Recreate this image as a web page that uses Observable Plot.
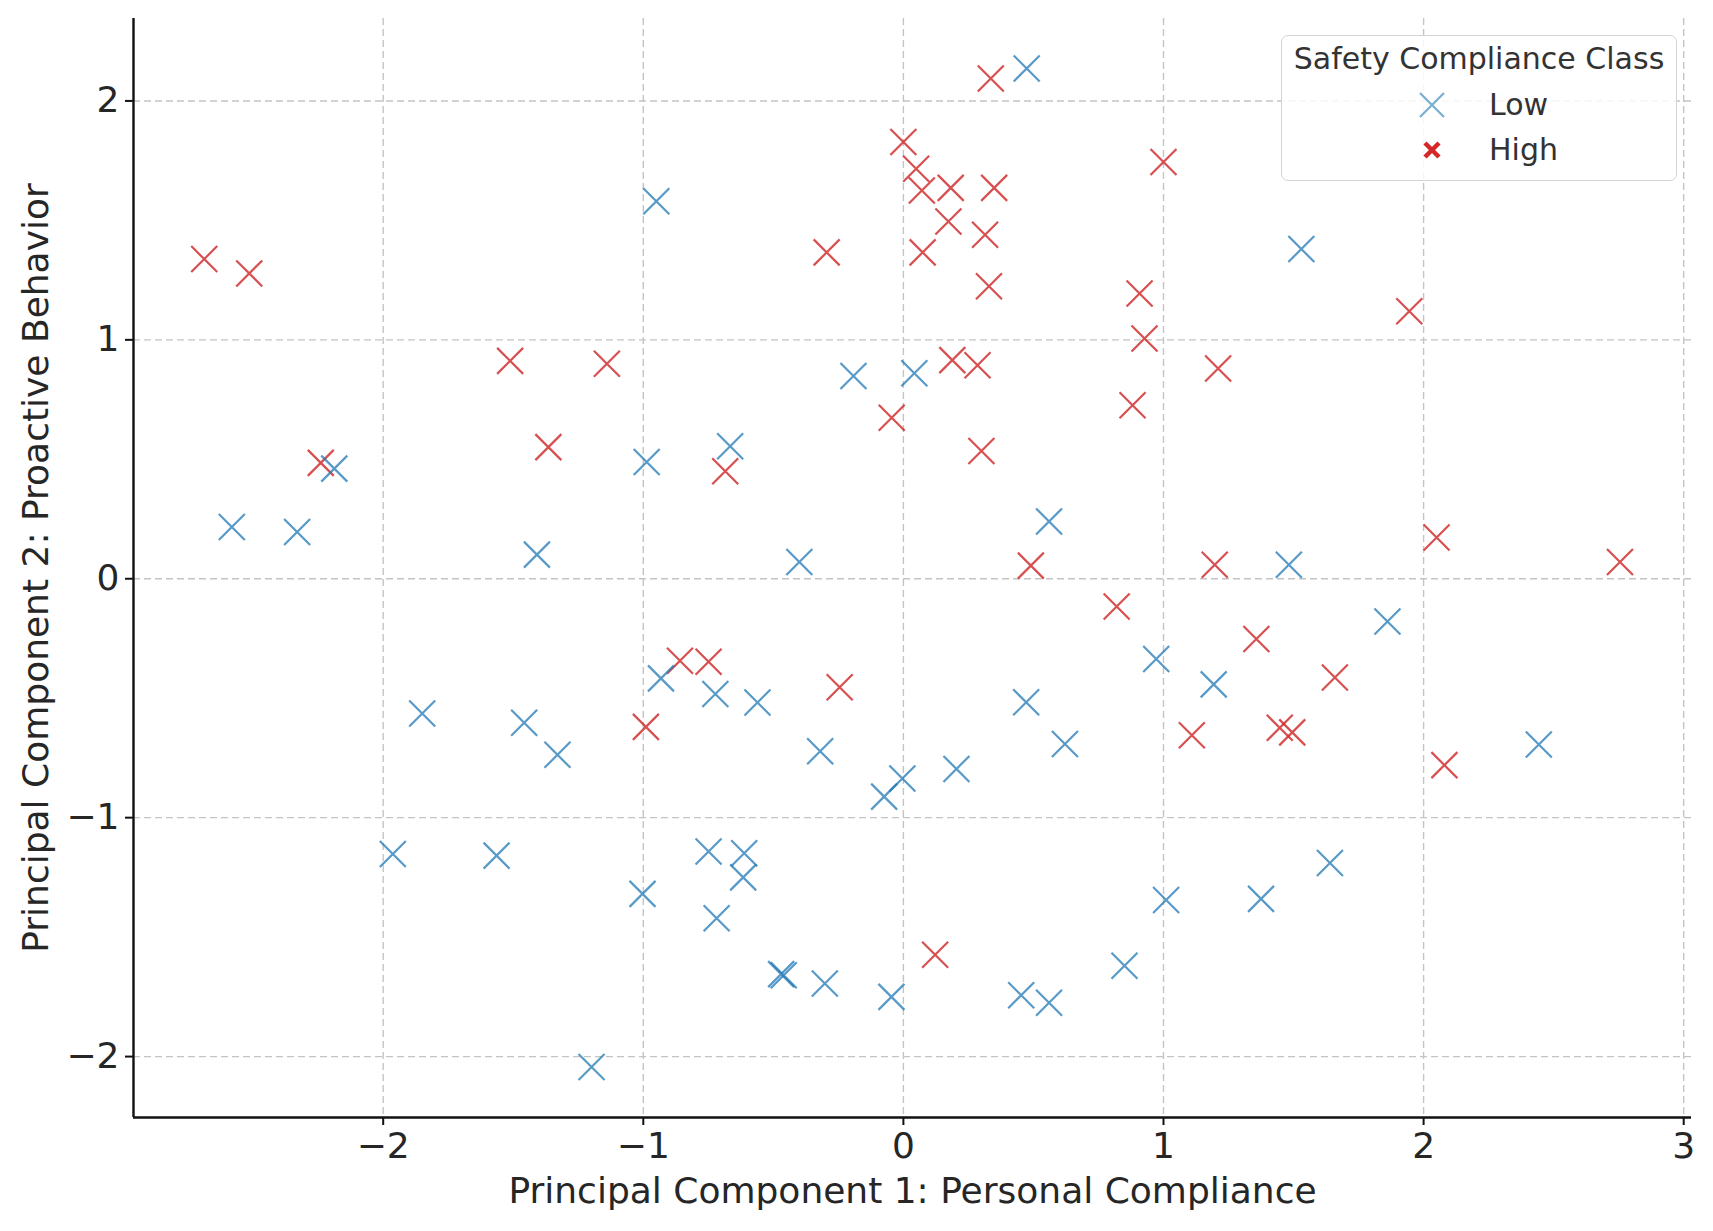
<!DOCTYPE html>
<html>
<head>
<meta charset="utf-8">
<script src="https://cdn.jsdelivr.net/npm/d3@7"></script>
<script src="https://cdn.jsdelivr.net/npm/@observablehq/plot@0.6"></script>
<style>
  html, body { margin: 0; padding: 0; background: #fff; overflow: hidden; }
  #wrap { position: relative; width: 1713px; height: 1231px; font-family: "DejaVu Sans", sans-serif; }
  #legend { position: absolute; left: 1281px; top: 35px; width: 396px; height: 146px;
    border: 1.5px solid #d4d4d4; border-radius: 7px; background: rgba(255,255,255,0.85); box-sizing: border-box; }
  #legend .title { position: absolute; left: 0; width: 100%; top: 3px; text-align: center; font-size: 30px; color: #333; line-height: 40px; }
  #legend .row { position: absolute; left: 0; width: 100%; height: 40px; }
  #legend .row svg { position: absolute; left: 130px; top: 0; }
  #legend .row span { position: absolute; left: 207px; top: 0; font-size: 30px; line-height: 40px; color: #333; }
</style>
</head>
<body>
<div id="wrap"></div>
<script>
// Low safety compliance class (blue)
const lowPC1 = [0.474, -0.95, 1.53, -0.192, 0.042, -0.666, -0.987, -2.188, -2.582, -2.331,
  -1.409, -0.40, 0.56, 1.482, 1.861, 0.972, 1.193, -0.932, -0.723, -0.561,
  -1.85, -1.458, -1.33, -0.32, 0.472, 0.621, 2.443, -0.004, -0.074, 0.204,
  -1.963, -1.564, -0.749, -0.612, -0.616, -1.003, -0.718, 1.01, 1.375, 1.64,
  -0.47, -0.46, -0.302, -0.046, 0.453, 0.56, 0.85, -1.199];
const lowPC2 = [2.136, 1.58, 1.38, 0.849, 0.86, 0.555, 0.489, 0.461, 0.217, 0.196,
  0.101, 0.07, 0.24, 0.059, -0.179, -0.336, -0.442, -0.417, -0.482, -0.518,
  -0.564, -0.603, -0.737, -0.722, -0.517, -0.692, -0.694, -0.836, -0.912, -0.796,
  -1.152, -1.159, -1.142, -1.149, -1.25, -1.319, -1.421, -1.345, -1.34, -1.19,
  -1.655, -1.66, -1.694, -1.75, -1.743, -1.775, -1.62, -2.044];

// High safety compliance class (red)
const highPC1 = [-2.688, -2.515, 0.336, 0.0, 0.049, 0.071, 0.182, 0.349, 0.173, 0.314,
  0.074, -0.295, 0.329, 1.0, 0.908, 0.927, 1.945, 1.21, 0.881, 0.188,
  0.285, -1.512, -1.14, -1.365, -2.24, -0.685, -0.045, 0.30, 0.49, 1.197,
  2.05, 2.755, 0.82, 1.357, 1.659, 1.447, 1.495, 1.109, 2.08, -0.859,
  -0.749, -0.99, -0.245, 0.122];
const highPC2 = [1.338, 1.278, 2.094, 1.828, 1.716, 1.625, 1.636, 1.636, 1.495, 1.44,
  1.366, 1.366, 1.224, 1.744, 1.194, 1.006, 1.12, 0.88, 0.726, 0.915,
  0.894, 0.912, 0.90, 0.551, 0.485, 0.45, 0.674, 0.535, 0.055, 0.059,
  0.173, 0.07, -0.116, -0.252, -0.413, -0.624, -0.643, -0.655, -0.78, -0.343,
  -0.347, -0.62, -0.454, -1.574];

const classNames = ["Low", "High"];
const xTicks = [-2, -1, 0, 1, 2, 3];
const yTicks = [-2, -1, 0, 1, 2];

const low = lowPC1.map((x, i) => ({x, y: lowPC2[i], cls: "Low"}));
const high = highPC1.map((x, i) => ({x, y: highPC2[i], cls: "High"}));

const xDomain = [-2.96, 3.03];
const yDomain = [-2.255, 2.345];

const cross = {
  draw(ctx, size) {
    const r = Math.sqrt(size / Math.PI);
    ctx.moveTo(-r, -r); ctx.lineTo(r, r);
    ctx.moveTo(-r, r); ctx.lineTo(r, -r);
  }
};
const fmt = d => d < 0 ? "\u2212" + Math.abs(d) : String(d);

const chart = Plot.plot({
  width: 1713,
  height: 1231,
  marginLeft: 133,
  marginRight: 22,
  marginTop: 18,
  marginBottom: 114,
  x: {domain: xDomain},
  y: {domain: yDomain},
  style: {fontFamily: "DejaVu Sans, sans-serif", fontSize: "36px", color: "#262626", background: "white"},
  marks: [
    Plot.gridX(xTicks, {stroke: "#c4c4c4", strokeOpacity: 1, strokeWidth: 1.4, strokeDasharray: "7,4"}),
    Plot.gridY(yTicks, {stroke: "#c4c4c4", strokeOpacity: 1, strokeWidth: 1.4, strokeDasharray: "7,4"}),
    Plot.dot(high, {x: "x", y: "y", symbol: cross, r: 13, fill: "none", stroke: "#d0282a", strokeOpacity: 0.82, strokeWidth: 2.2}),
    Plot.dot(low, {x: "x", y: "y", symbol: cross, r: 13, fill: "none", stroke: "#1f77b4", strokeOpacity: 0.75, strokeWidth: 2.2}),
    Plot.ruleX([xDomain[0]], {stroke: "#111", strokeWidth: 2.4}),
    Plot.ruleY([yDomain[0]], {stroke: "#111", strokeWidth: 2.4}),
    Plot.axisX(xTicks, {tickSize: 8, tickPadding: 7, tickFormat: fmt, stroke: "#111", strokeWidth: 2,
      label: "Principal Component 1: Personal Compliance", labelAnchor: "center", labelArrow: "none", labelOffset: 85}),
    Plot.axisY(yTicks, {tickSize: 8, tickPadding: 6, tickFormat: fmt, stroke: "#111", strokeWidth: 2,
      label: "Principal Component 2: Proactive Behavior", labelAnchor: "center", labelArrow: "none", labelOffset: 111})
  ]
});

const wrap = document.getElementById("wrap");
wrap.appendChild(chart);

const legend = document.createElement("div");
legend.id = "legend";
legend.innerHTML = `
  <div class="title">Safety Compliance Class</div>
  <div class="row" style="top:49px"><svg width="40" height="40" viewBox="-20 -20 40 40">
    <path d="M-12,-12L12,12M-12,12L12,-12" stroke="#1f77b4" stroke-opacity="0.6" stroke-width="2.2" fill="none"/></svg>
    <span>${classNames[0]}</span></div>
  <div class="row" style="top:94px"><svg width="40" height="40" viewBox="-20 -20 40 40">
    <path d="M-7,-7L7,7M-7,7L7,-7" stroke="#d62728" stroke-width="4.5" fill="none"/></svg>
    <span>${classNames[1]}</span></div>`;
wrap.appendChild(legend);
</script>
</body>
</html>
